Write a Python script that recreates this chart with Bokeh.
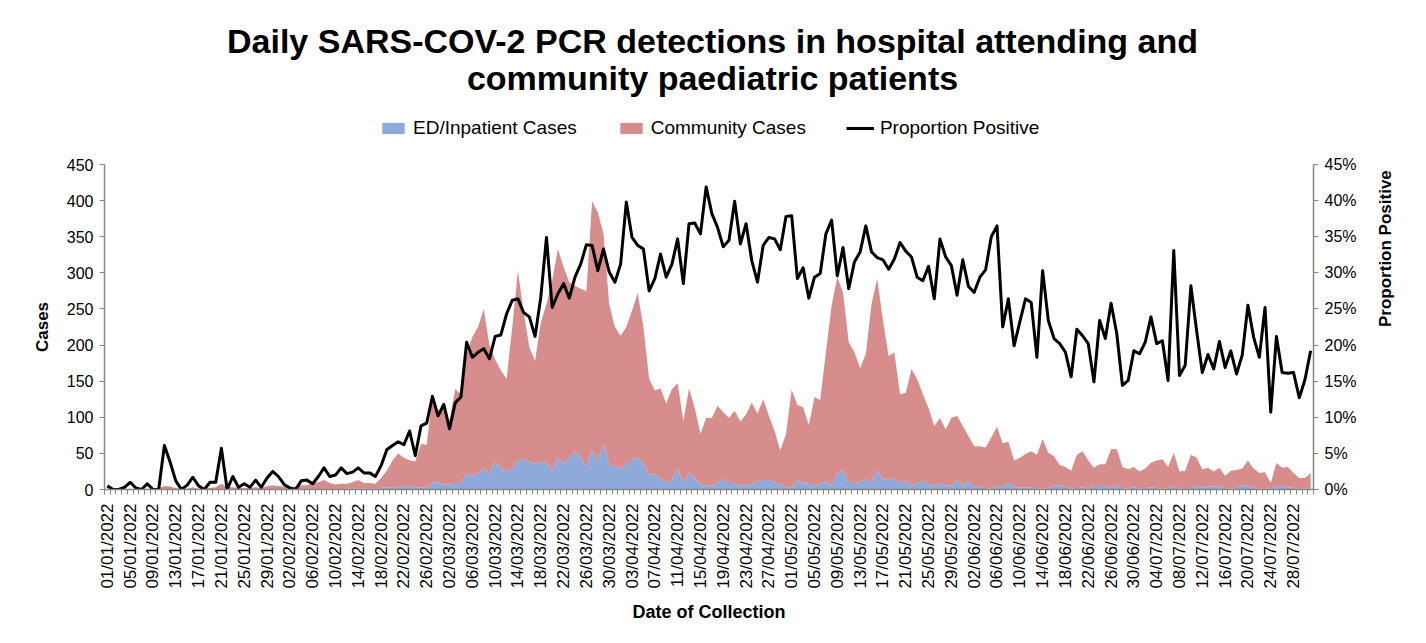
import pandas as pd
from math import pi
from bokeh.plotting import figure
from bokeh.layouts import column
from bokeh.models import (Range1d, LinearAxis, FixedTicker, NumeralTickFormatter,
                          Legend, LegendItem, Label, ColumnDataSource)
from bokeh.embed import file_html
from bokeh.resources import INLINE

# ---------------- data ----------------
dates = pd.date_range("2022-01-01", periods=212)
date_labels = [d.strftime("%d/%m/%Y") for d in dates]

ed_inpatient_cases = [
    0, 0, 0, 0, 0, 0, 0, 0, 0, 0,
    0, 0, 0, 0, 0, 0, 0, 0, 0, 0,
    0, 0, 0, 0, 0, 0, 0, 0, 0, 0,
    0, 0, 0, 0, 0, 0, 0, 0, 0, 0,
    1, 0, 1, 2, 1, 1, 2, 1, 2, 3,
    2, 3, 5, 4, 3, 3, 2, 9, 10, 7,
    7, 9, 9, 23, 19, 23, 29, 23, 39, 29,
    25, 28, 40, 42, 38, 36, 38, 37, 26, 43,
    36, 44, 53, 44, 31, 54, 40, 63, 33, 33,
    28, 37, 40, 45, 36, 20, 21, 15, 9, 14,
    29, 10, 23, 15, 7, 6, 5, 9, 15, 9,
    9, 6, 6, 7, 11, 13, 13, 10, 7, 3,
    2, 13, 8, 9, 5, 8, 11, 5, 22, 27,
    9, 9, 10, 15, 9, 27, 14, 13, 16, 9,
    12, 5, 9, 12, 8, 5, 8, 6, 5, 13,
    5, 12, 3, 4, 2, 1, 5, 5, 9, 3,
    3, 3, 2, 2, 1, 1, 6, 6, 3, 1,
    2, 3, 1, 5, 5, 5, 2, 6, 2, 1,
    3, 1, 2, 3, 2, 1, 2, 4, 1, 2,
    2, 5, 2, 4, 4, 4, 2, 1, 2, 6,
    4, 2, 1, 2, 1, 5, 4, 3, 2, 1,
    1, 1,
]

community_cases = [
    0, 0, 0, 0, 1, 0, 0, 1, 0, 2,
    5, 4, 2, 1, 1, 3, 1, 1, 2, 3,
    8, 3, 3, 2, 2, 2, 3, 2, 5, 6,
    5, 4, 3, 4, 6, 6, 9, 10, 13, 9,
    6, 8, 7, 8, 12, 8, 7, 7, 14, 23,
    38, 47, 39, 36, 36, 60, 60, 121, 92, 107,
    88, 130, 123, 165, 192, 202, 221, 177, 141, 136,
    128, 197, 263, 203, 159, 142, 193, 220, 263, 290,
    272, 243, 229, 234, 244, 345, 344, 291, 224, 192,
    185, 188, 208, 227, 189, 133, 116, 125, 110, 125,
    118, 85, 117, 98, 70, 93, 94, 107, 92, 90,
    100, 88, 98, 113, 94, 112, 89, 71, 47, 74,
    136, 104, 106, 80, 123, 116, 179, 250, 272, 246,
    195, 181, 158, 173, 248, 265, 220, 172, 174, 123,
    122, 162, 144, 120, 105, 83, 91, 77, 94, 89,
    83, 62, 57, 56, 56, 71, 82, 59, 57, 37,
    41, 46, 51, 46, 69, 50, 40, 28, 28, 25,
    46, 50, 39, 25, 30, 30, 54, 50, 29, 27,
    28, 24, 27, 34, 38, 41, 29, 47, 24, 24,
    46, 39, 26, 26, 21, 26, 17, 25, 25, 23,
    36, 27, 22, 22, 8, 32, 26, 28, 21, 15,
    15, 22,
]

proportion_positive_pct = [
    0.5, 0, 0, 0.3, 1.0, 0.2, 0, 0.8, 0, 0,
    6.1, 3.8, 1.2, 0, 0.6, 1.7, 0.5, 0, 1.0, 1.0,
    5.7, 0, 1.8, 0.3, 0.8, 0.3, 1.3, 0.3, 1.6, 2.5,
    1.8, 0.7, 0.2, 0, 1.2, 1.3, 0.8, 1.8, 3.0, 1.8,
    2.0, 3.0, 2.2, 2.4, 3.0, 2.3, 2.3, 1.8, 3.3, 5.5,
    6.1, 6.6, 6.2, 8.1, 4.7, 8.8, 9.2, 12.9, 10.2, 11.8,
    8.4, 12.0, 12.8, 20.4, 18.3, 19.0, 19.5, 18.1, 21.2, 21.4,
    24.3, 26.2, 26.4, 24.5, 23.9, 21.2, 26.6, 34.9, 25.2, 27.1,
    28.5, 26.5, 29.4, 31.2, 33.9, 33.8, 30.3, 33.3, 30.1, 28.7,
    31.2, 39.8, 34.9, 33.8, 33.3, 27.5, 29.2, 32.6, 29.4, 31.2,
    34.7, 28.5, 36.8, 36.9, 35.4, 41.9, 38.2, 36.3, 33.6, 34.5,
    39.9, 34.0, 36.8, 31.7, 28.7, 33.8, 34.9, 34.7, 33.2, 37.8,
    37.9, 29.2, 30.7, 26.5, 29.4, 29.9, 35.4, 37.3, 29.6, 33.5,
    27.8, 31.5, 32.9, 36.5, 32.9, 32.1, 31.8, 30.5, 31.9, 34.2,
    33.0, 32.2, 29.4, 28.9, 30.9, 26.4, 34.7, 32.2, 31.0, 26.9,
    31.8, 28.1, 27.3, 29.4, 30.4, 35.0, 36.5, 22.5, 26.4, 19.9,
    23.2, 26.4, 25.9, 18.3, 30.3, 23.4, 20.9, 20.2, 19.0, 15.6,
    22.2, 21.3, 20.2, 14.9, 23.4, 20.9, 25.8, 21.6, 14.4, 15.1,
    19.2, 18.8, 20.4, 23.9, 20.2, 20.6, 15.1, 33.1, 15.8, 17.2,
    28.2, 22.0, 16.2, 18.7, 16.7, 20.5, 16.9, 19.2, 16.0, 18.6,
    25.5, 21.1, 18.3, 25.2, 10.7, 21.2, 16.2, 16.1, 16.2, 12.7,
    15.2, 19.2,
]

cases_ticks = list(range(0, 451, 50))
pct_ticks = [k / 100 for k in range(0, 46, 5)]

title_lines = ["Daily SARS-COV-2 PCR detections in hospital attending and",
               "community paediatric patients"]
legend_labels = ["ED/Inpatient Cases", "Community Cases", "Proportion Positive"]

# ---------------- style ----------------
FONT = "Liberation Sans"
AXIS_GREY = "#868686"
BLUE = "#8EAADA"
RED = "#D68D8C"
W = 1420
LEFT = 104
FRAME_W = 1209

n = len(date_labels)
source = ColumnDataSource(dict(
    day=list(range(n)),
    ed=ed_inpatient_cases,
    community=community_cases,
    prop=[v / 100 for v in proportion_positive_pct],
))

# ---------------- header (titles + legend) ----------------
# its frame is aligned with the main frame by the column layout
header = figure(width=W, height=154, x_range=Range1d(-3, -2), y_range=Range1d(0, 1),
                output_backend="svg", toolbar_location=None,
                min_border_left=LEFT, min_border_right=W - LEFT - FRAME_W,
                min_border_top=0, min_border_bottom=0)
header.axis.visible = False
header.grid.visible = False
header.outline_line_color = None
header.border_fill_color = "white"

for txt, y in zip(title_lines, [114, 77]):
    header.add_layout(Label(x=712 - LEFT, y=y, x_units="screen", y_units="screen",
                            text=txt, text_align="center", text_baseline="middle",
                            text_font=FONT, text_font_size="34px",
                            text_font_style="bold", text_color="black"))

# same series drawn outside the header's visible range: they only feed the legend
h_areas = header.varea_stack(["ed", "community"], x="day", source=source,
                             color=[BLUE, RED])
h_line = header.line("day", "prop", source=source, line_color="black", line_width=3)

legend = Legend(items=[
    LegendItem(label=legend_labels[0], renderers=[h_areas[0]]),
    LegendItem(label=legend_labels[1], renderers=[h_areas[1]]),
    LegendItem(label=legend_labels[2], renderers=[h_line]),
], orientation="horizontal", location=(379 - LEFT, 15),
    glyph_width=28, glyph_height=14, spacing=40, label_standoff=6,
    label_text_font=FONT, label_text_font_size="19px", label_text_color="black",
    border_line_color=None, background_fill_alpha=0,
    padding=4, margin=0)
header.add_layout(legend, "center")

# ---------------- main chart ----------------
p = figure(width=W, height=488,
           x_range=Range1d(-0.5, n - 0.5), y_range=Range1d(0, 450),
           output_backend="svg", toolbar_location=None,
           min_border_left=LEFT, min_border_right=W - LEFT - FRAME_W,
           min_border_top=10, min_border_bottom=153)
p.extra_y_ranges = {"pct": Range1d(0, 0.45)}
p.xgrid.visible = False
p.ygrid.visible = False
p.outline_line_color = None
p.background_fill_color = "white"
p.border_fill_color = "white"

areas = p.varea_stack(["ed", "community"], x="day", source=source,
                      color=[BLUE, RED])
line = p.line("day", "prop", source=source, y_range_name="pct",
              line_color="black", line_width=3, line_join="round")

# x axis
xa = p.xaxis[0]
xa.ticker = FixedTicker(ticks=list(range(0, n, 4)),
                        minor_ticks=[k - 0.5 for k in range(n + 1)])
xa.major_label_overrides = {i: date_labels[i] for i in range(0, n, 4)}
xa.major_label_orientation = pi / 2
xa.major_tick_in = 0
xa.major_tick_out = 0
xa.minor_tick_in = 0
xa.minor_tick_out = 5
xa.minor_tick_line_color = AXIS_GREY
xa.axis_line_color = AXIS_GREY
xa.axis_line_width = 1.5
xa.major_label_text_font = FONT
xa.major_label_text_font_size = "17px"
xa.major_label_text_color = "black"
xa.major_label_standoff = 9
xa.axis_label = "Date of Collection"
xa.axis_label_text_font = FONT
xa.axis_label_text_font_size = "18px"
xa.axis_label_text_font_style = "bold"
xa.axis_label_text_color = "black"
xa.axis_label_standoff = 10

# left axis
ya = p.yaxis[0]
ya.ticker = FixedTicker(ticks=cases_ticks)
ya.major_tick_in = 0
ya.major_tick_out = 5
ya.minor_tick_line_color = None
ya.axis_line_color = AXIS_GREY
ya.axis_line_width = 1.5
ya.major_tick_line_color = AXIS_GREY
ya.major_label_text_font = FONT
ya.major_label_text_font_size = "16px"
ya.major_label_text_color = "black"
ya.major_label_standoff = 6
ya.axis_label = "Cases"
ya.axis_label_text_font = FONT
ya.axis_label_text_font_size = "17px"
ya.axis_label_text_font_style = "bold"
ya.axis_label_text_color = "black"
ya.axis_label_standoff = 12

# right axis
ra = LinearAxis(y_range_name="pct", ticker=FixedTicker(ticks=pct_ticks),
                formatter=NumeralTickFormatter(format="0%"))
ra.major_tick_in = 0
ra.major_tick_out = 5
ra.minor_tick_line_color = None
ra.axis_line_color = AXIS_GREY
ra.axis_line_width = 1.5
ra.major_tick_line_color = AXIS_GREY
ra.major_label_text_font = FONT
ra.major_label_text_font_size = "16px"
ra.major_label_text_color = "black"
ra.major_label_standoff = 6
ra.axis_label = "Proportion Positive"
ra.axis_label_orientation = pi / 2
ra.axis_label_text_align = "center"
ra.axis_label_text_font = FONT
ra.axis_label_text_font_size = "17px"
ra.axis_label_text_font_style = "bold"
ra.axis_label_text_color = "black"
ra.axis_label_standoff = 26
p.add_layout(ra, "right")

layout = column(header, p, spacing=0)
open("out.html", "w").write(file_html(layout, INLINE))
